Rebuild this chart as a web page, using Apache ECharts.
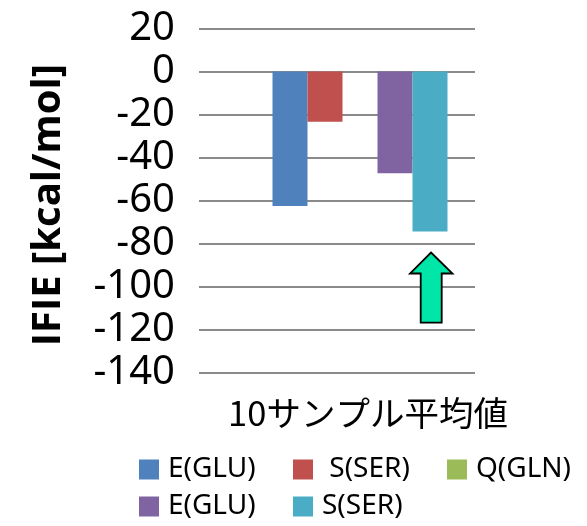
<!DOCTYPE html>
<html>
<head>
<meta charset="utf-8">
<script src="https://cdn.jsdelivr.net/npm/echarts@6/dist/echarts.min.js"></script>
<style>
html,body{margin:0;padding:0;background:#fff;}
#c{width:587px;height:526px;}
</style>
</head>
<body>
<div id="c"></div>
<script>
const categories = ['10サンプル平均値'];
const seriesNames = ['E(GLU)', ' S(SER)', 'Q(GLN)', 'E(GLU) ', 'S(SER)'];
const seriesColors = ['#4F81BD', '#C0504D', '#9BBB59', '#8064A2', '#4BACC6'];
const valsE1 = [-62.5];
const valsS1 = [-23.3];
const valsQ = [0];
const valsE2 = [-47.3];
const valsS2 = [-74.4];
const yTicks = { min: -140, max: 20, interval: 20 };

const seriesData = [valsE1, valsS1, valsQ, valsE2, valsS2];

const chart = echarts.init(document.getElementById('c'), null, { renderer: 'canvas' });
const font = '"Noto Sans", "Open Sans", sans-serif';

chart.setOption({
  animation: false,
  backgroundColor: '#ffffff',
  grid: [
    { left: 199, right: 112, top: 28.5, bottom: 153.3 },
    { left: 199, right: 66, top: 28.5, bottom: 153.3 }
  ],
  xAxis: [
    { type: 'category', gridIndex: 0, data: categories, show: false },
    {
      type: 'category', gridIndex: 1, data: categories,
      axisLine: { show: false }, axisTick: { show: false },
      axisLabel: { color: '#000', fontSize: 34.5, fontFamily: '"Noto Sans CJK JP", sans-serif', margin: 23, padding: [0, 0, 0, 16] }
    }
  ],
  yAxis: [
    {
      type: 'value', gridIndex: 0, min: yTicks.min, max: yTicks.max, interval: yTicks.interval,
      name: 'IFIE [kcal/mol]', nameLocation: 'middle', nameRotate: 90, nameGap: 130,
      nameTextStyle: { color: '#000', fontSize: 40, fontWeight: 'bold', fontFamily: '"Open Sans", sans-serif', padding: [0, 9, 0, 0] },
      axisLine: { show: false }, axisTick: { show: false },
      axisLabel: { color: '#000', fontSize: 40, fontFamily: font, margin: 24 },
      splitLine: { show: true, lineStyle: { color: '#8a8a8a', width: 2 } }
    },
    {
      type: 'value', gridIndex: 1, min: yTicks.min, max: yTicks.max, interval: yTicks.interval,
      show: false, splitLine: { show: false }
    }
  ],
  legend: {
    left: 139, top: 451, width: 480, padding: 0,
    itemWidth: 20, itemHeight: 20, itemGap: 0,
    icon: 'rect',
    data: seriesNames,
    textStyle: { color: '#000', fontSize: 28, fontFamily: font, width: 125, lineHeight: 37, padding: [0, 0, 0, 4] }
  },
  series: seriesNames.map((n, i) => ({
    name: n, type: 'bar', xAxisIndex: 1, yAxisIndex: 1,
    data: seriesData[i], barWidth: 35, barGap: 0,
    itemStyle: { color: seriesColors[i] }
  })),
  graphic: [{
    type: 'polygon',
    shape: { points: [[431, 252.5], [452.5, 273.5], [441.7, 273.5], [441.7, 322.7], [420.7, 322.7], [420.7, 273.5], [410, 273.5]] },
    style: { fill: '#00E6A8', stroke: '#000', lineWidth: 1.8 },
    z: 100
  }]
});
</script>
</body>
</html>
